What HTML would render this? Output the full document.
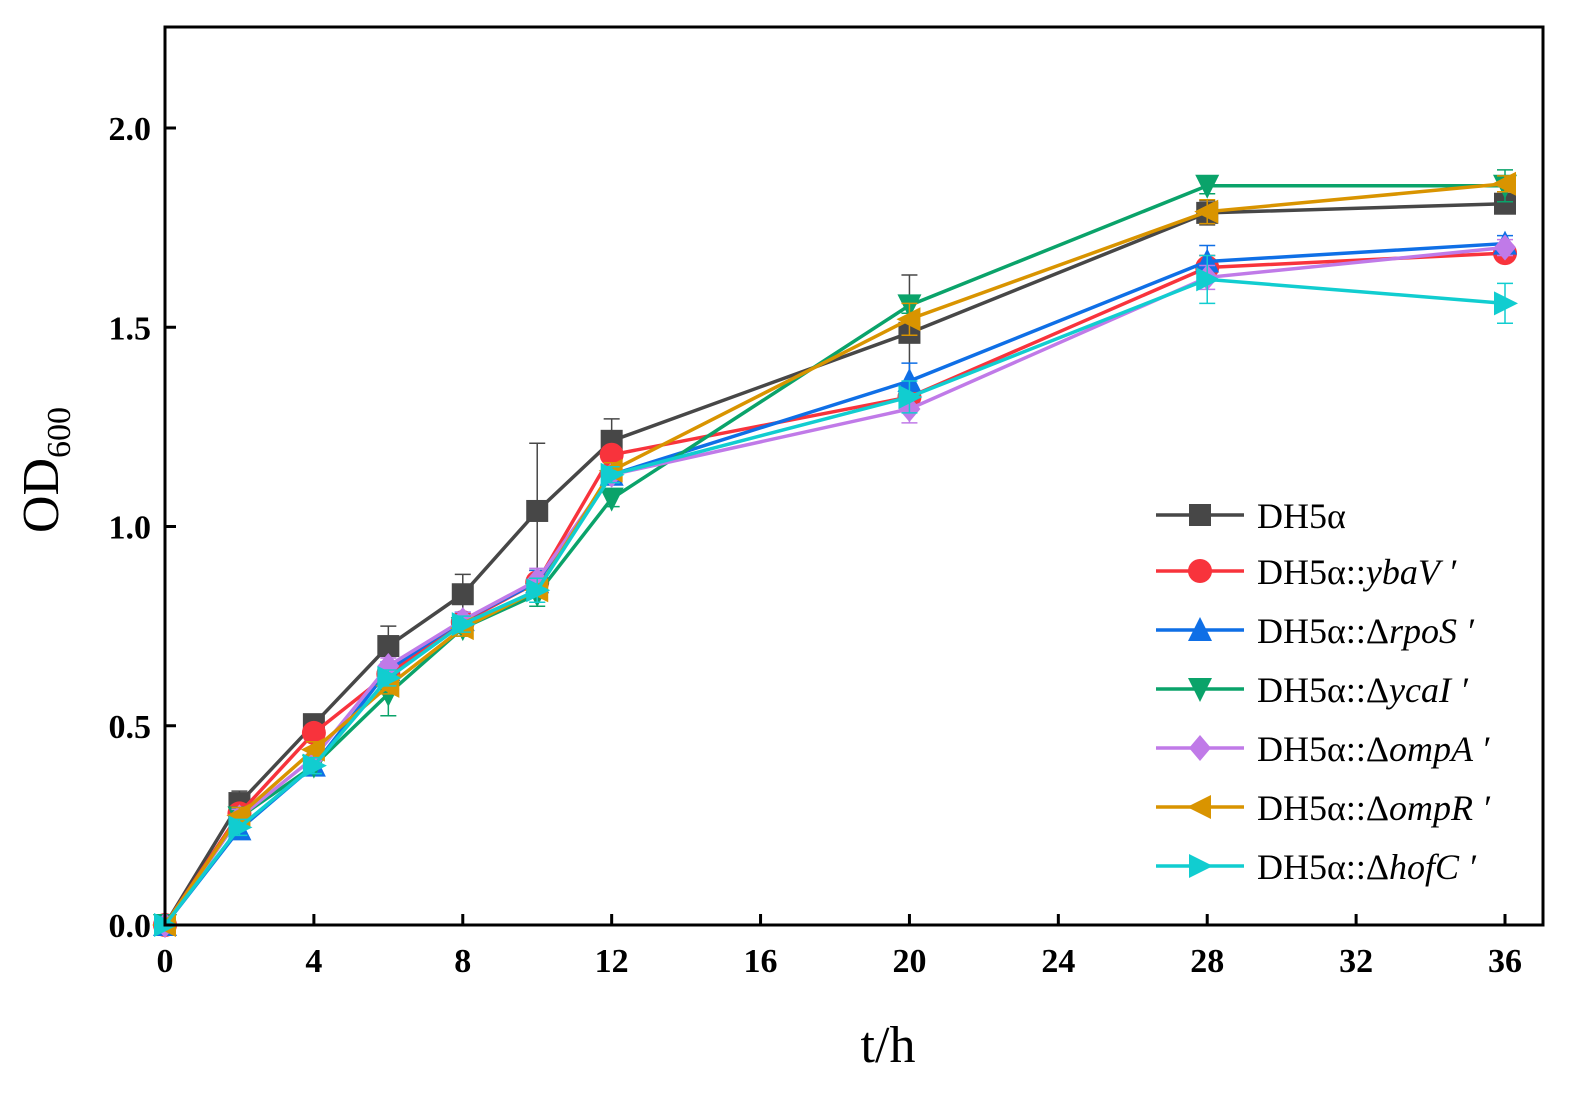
<!DOCTYPE html>
<html><head><meta charset="utf-8"><style>
body{margin:0;background:#fff}
svg text{font-family:"Liberation Serif",serif}
</style></head><body>
<svg id="chart" width="1586" height="1089" viewBox="0 0 1586 1089">
<g id="plot"></g>
</svg>
<script>
const xs=[0,2,4,6,8,10,12,20,28,36];
const seriesNames=["DH5α","ybaV","rpoS","ycaI","ompA","ompR","hofC"];
const sDH5a=[0,0.306,0.504,0.70,0.83,1.039,1.215,1.486,1.787,1.81];
const sYbaV=[0,0.28,0.482,0.63,0.76,0.86,1.18,1.325,1.65,1.686];
const sRpoS=[0,0.24,0.40,0.64,0.765,0.86,1.13,1.365,1.665,1.71];
const sYcaI=[0,0.27,0.40,0.58,0.745,0.83,1.07,1.555,1.855,1.855];
const sOmpA=[0,0.27,0.42,0.65,0.765,0.865,1.13,1.295,1.625,1.70];
const sOmpR=[0,0.275,0.44,0.60,0.745,0.84,1.14,1.52,1.79,1.86];
const sHofC=[0,0.245,0.40,0.62,0.755,0.84,1.13,1.325,1.62,1.56];
const eDH5a=[0,0.03,0.02,0.05,0.05,0.17,0.055,0.145,0.03,0.02];
const eYbaV=[0,0.02,0.02,0.02,0.02,0.03,0.02,0.03,0.03,0.02];
const eRpoS=[0,0.02,0.02,0.02,0.02,0.03,0.02,0.045,0.04,0.02];
const eYcaI=[0,0.02,0.02,0.055,0.02,0.03,0.02,0.02,0.02,0.04];
const eOmpA=[0,0.02,0.02,0.02,0.02,0.03,0.02,0.035,0.03,0.02];
const eOmpR=[0,0.02,0.02,0.02,0.02,0.03,0.02,0.04,0.03,0.02];
const eHofC=[0,0.02,0.02,0.02,0.02,0.03,0.02,0.04,0.06,0.05];
const xTicks=[0,4,8,12,16,20,24,28,32,36];
const yTicks=[0,0.5,1.0,1.5,2.0];
const yTickLabels=["0.0","0.5","1.0","1.5","2.0"];

const X0=165,X1=1543,Y0=925,Y1=27;
const xs_=v=>165+v*(1505-165)/36;
const ys_=v=>925-v*398.5;
const NS="http://www.w3.org/2000/svg";
const svg=document.getElementById('chart');
function mk(t,a,p){const e=document.createElementNS(NS,t);for(const k in a)e.setAttribute(k,a[k]);(p||svg).appendChild(e);return e;}
const plot=document.getElementById('plot');

const series=[
 {d:sDH5a,e:eDH5a,c:"#474747",m:"square",n:"dh5a"},
 {d:sYbaV,e:eYbaV,c:"#f8333c",m:"circle",n:"ybav"},
 {d:sRpoS,e:eRpoS,c:"#0f6fe6",m:"up",n:"rpos"},
 {d:sYcaI,e:eYcaI,c:"#0aa36a",m:"down",n:"ycai"},
 {d:sOmpA,e:eOmpA,c:"#c07ae8",m:"diamond",n:"ompa"},
 {d:sOmpR,e:eOmpR,c:"#d99400",m:"left",n:"ompr"},
 {d:sHofC,e:eHofC,c:"#11cdd0",m:"right",n:"hofc"}];

function marker(type,x,y,c,p){
 const s=11;let el;
 if(type=="square")el=mk('rect',{x:x-s,y:y-s,width:2*s,height:2*s,fill:c},p);
 else if(type=="circle")el=mk('circle',{cx:x,cy:y,r:s+1,fill:c},p);
 else{let pts;
  if(type=="up")pts=[[x,y-s-2],[x+s+1,y+s],[x-s-1,y+s]];
  else if(type=="down")pts=[[x,y+s+2],[x+s+1,y-s],[x-s-1,y-s]];
  else if(type=="left")pts=[[x-s-2,y],[x+s,y-s-1],[x+s,y+s+1]];
  else if(type=="right")pts=[[x+s+2,y],[x-s,y-s-1],[x-s,y+s+1]];
  else pts=[[x,y-s-2],[x+s,y],[x,y+s+2],[x-s,y]];
  el=mk('polygon',{points:pts.map(q=>q.join(',')).join(' '),fill:c},p);}
 return el;
}

series.forEach(s=>{
 const g=mk('g',{},plot);
 
 
 s.d.forEach((v,i)=>{ if(s.e[i]>0){
  const x=xs_(xs[i]),yt=ys_(v+s.e[i]),yb=ys_(v-s.e[i]);
  const eb=mk('path',{d:`M${x},${yt}V${yb}M${x-8},${yt}H${x+8}M${x-8},${yb}H${x+8}`,stroke:s.c,'stroke-width':1.5,fill:'none'},g);
  
  
 }});
 const ln=mk('polyline',{points:s.d.map((v,i)=>xs_(xs[i])+','+ys_(v)).join(' '),fill:'none',stroke:s.c,'stroke-width':3.5},g);
 
 
 s.d.forEach((v,i)=>{const m=marker(s.m,xs_(xs[i]),ys_(v),s.c,g);
  
  });
});

const fr=mk('rect',{x:X0,y:Y1,width:X1-X0,height:Y0-Y1,fill:'none',stroke:'#000','stroke-width':3});


xTicks.forEach(t=>{const x=xs_(t);
 const tk=mk('line',{x1:x,x2:x,y1:Y0,y2:Y0-11,stroke:'#000','stroke-width':3});
 
 
 const tl=mk('text',{x:x,y:972,'text-anchor':'middle','font-size':34,'font-weight':'bold'});tl.textContent=t;
 
 });
yTicks.forEach((t,i)=>{const y=ys_(t);
 const tk=mk('line',{x1:X0,x2:X0+11,y1:y,y2:y,stroke:'#000','stroke-width':3});
 
 
 const tl=mk('text',{x:151,y:y+12,'text-anchor':'end','font-size':34,'font-weight':'bold'});tl.textContent=yTickLabels[i];
 
 });

const xt=mk('text',{x:888,y:1062,'text-anchor':'middle','font-size':52});xt.textContent='t/h';


const yt=mk('text',{transform:'translate(58,470) rotate(-90)','text-anchor':'middle','font-size':52});
yt.innerHTML='OD<tspan font-size="34" dy="12">600</tspan>';



const legY=[515,571,630,689,748,807,866];
const legLabels=[["DH5α",""],["DH5α::","ybaV ′"],["DH5α::Δ","rpoS ′"],["DH5α::Δ","ycaI ′"],["DH5α::Δ","ompA ′"],["DH5α::Δ","ompR ′"],["DH5α::Δ","hofC ′"]];
series.forEach((s,i)=>{
 const g=mk('g',{});
 
 
 mk('line',{x1:1156,x2:1244,y1:legY[i],y2:legY[i],stroke:s.c,'stroke-width':3.5},g);
 marker(s.m,1200,legY[i],s.c,g);
 const t=mk('text',{x:1257,y:legY[i]+13,'font-size':36},g);
 t.innerHTML=legLabels[i][0]+(legLabels[i][1]?'<tspan font-style="italic">'+legLabels[i][1]+'</tspan>':'');
});
</script>
</body></html>
